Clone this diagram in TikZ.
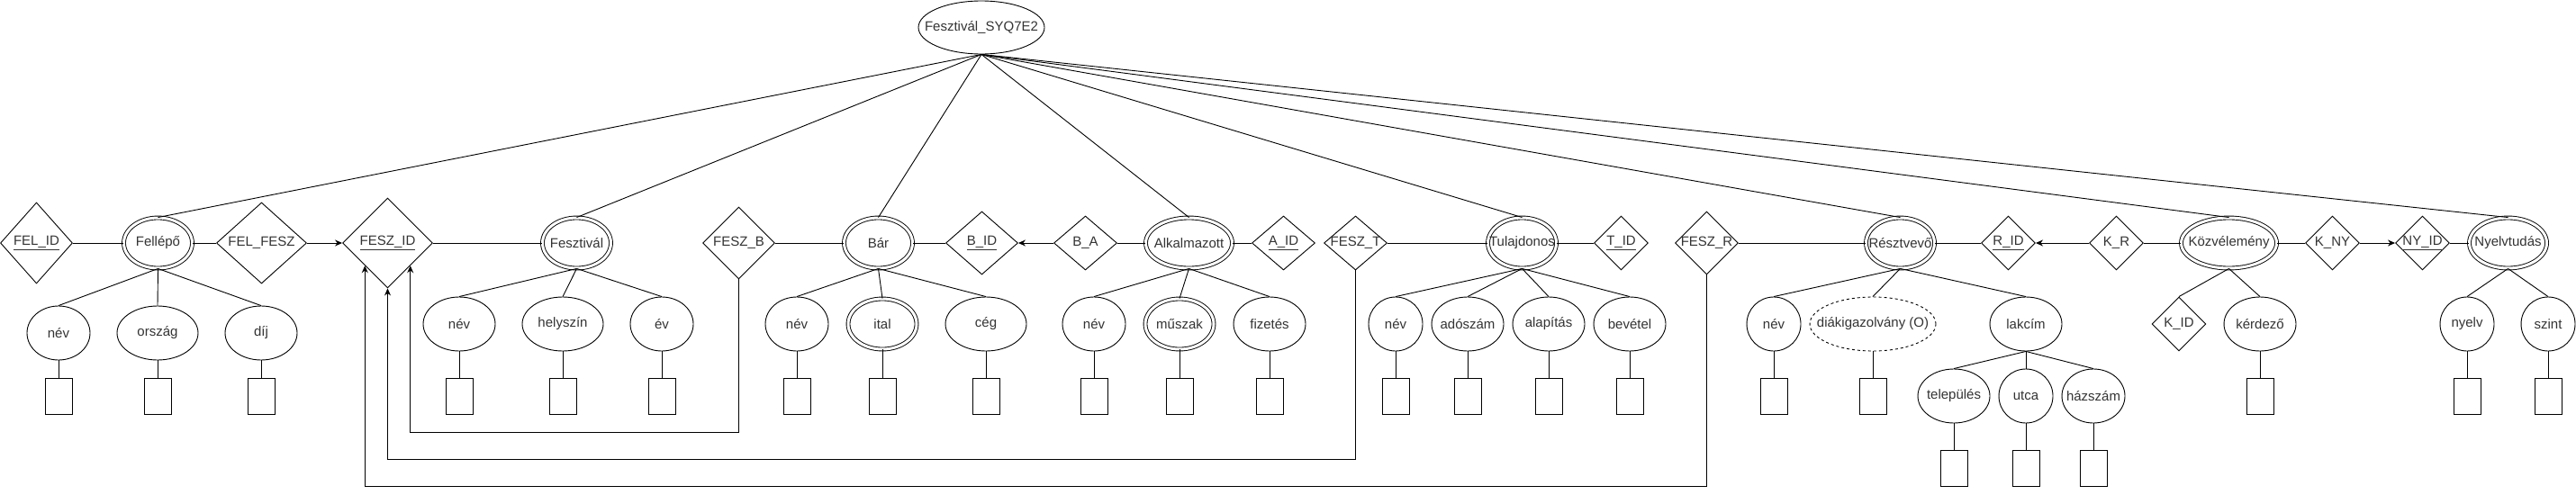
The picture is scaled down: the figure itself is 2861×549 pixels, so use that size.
\documentclass[tikz,border=0pt]{standalone}
\usepackage{fontspec}
\setmainfont{Liberation Sans}
\usetikzlibrary{shapes.geometric, arrows.meta, positioning}
\newcommand{\zbox}[1]{\makebox[0pt]{#1}}

\begin{document}
\begin{tikzpicture}[x=1pt, y=-1pt, line width=0.9pt,
    font=\fontsize{15}{18}\selectfont, text=black!80,
    >={Stealth[length=8pt, width=7pt]},
    ent/.style={draw, ellipse, double, double distance=3pt, inner sep=0pt, minimum height=56pt},
    attr/.style={draw, ellipse, inner sep=0pt, minimum height=60pt},
    rel/.style={draw, diamond, inner sep=0pt},
    dom/.style={draw, rectangle, inner sep=0pt, minimum width=30pt, minimum height=40pt}]
    \useasboundingbox (0,0) rectangle (2861,549);

    % Root
    \node [attr, minimum width=140pt, minimum height=59pt] (top) at (1090,30.5) {\zbox{Fesztivál\_SYQ7E2}};

    % Entities and relations
    \node [rel, minimum width=80pt, minimum height=90pt] (felid) at (40.5,270) {\zbox{\underline{FEL\_ID}}};
    \node [ent, minimum width=76pt, right of=felid, node distance=135pt] (fellepo) {\zbox{Fellépő}};
    \node [rel, minimum width=100pt, minimum height=90pt, right of=fellepo, node distance=115pt] (felfesz) {\zbox{FEL\_FESZ}};
    \node [rel, minimum width=100pt, minimum height=100pt, right of=felfesz, node distance=140pt] (feszid) {\zbox{\underline{FESZ\_ID}}};
    \node [ent, minimum width=76pt, right of=feszid, node distance=210pt] (fesztival) {\zbox{Fesztivál}};
    \node [rel, minimum width=80pt, minimum height=80pt, right of=fesztival, node distance=180pt] (feszb) {\zbox{FESZ\_B}};
    \node [ent, minimum width=76pt, right of=feszb, node distance=155pt] (bar) {\zbox{Bár}};
    \node [rel, minimum width=80pt, minimum height=70pt, right of=bar, node distance=115pt] (bid) {\zbox{\underline{B\_ID}}};
    \node [rel, minimum width=70pt, minimum height=60pt, right of=bid, node distance=115pt] (ba) {\zbox{B\_A}};
    \node [ent, minimum width=96pt, right of=ba, node distance=115pt] (alk) {\zbox{Alkalmazott}};
    \node [rel, minimum width=70pt, minimum height=60pt, right of=alk, node distance=105pt] (aid) {\zbox{\underline{A\_ID}}};
    \node [rel, minimum width=70pt, minimum height=60pt, right of=aid, node distance=80pt] (feszt) {\zbox{FESZ\_T}};
    \node [ent, minimum width=76pt, right of=feszt, node distance=185pt] (tul) {\zbox{Tulajdonos}};
    \node [rel, minimum width=60pt, minimum height=60pt, right of=tul, node distance=110pt] (tid) {\zbox{\underline{T\_ID}}};
    \node [rel, minimum width=70pt, minimum height=70pt, right of=tid, node distance=95pt] (feszr) {\zbox{FESZ\_R}};
    \node [ent, minimum width=76pt, right of=feszr, node distance=215pt] (reszt) {\zbox{Résztvevő}};
    \node [rel, minimum width=60pt, minimum height=60pt, right of=reszt, node distance=120pt] (rid) {\zbox{\underline{R\_ID}}};
    \node [rel, minimum width=60pt, minimum height=60pt, right of=rid, node distance=120pt] (kr) {\zbox{K\_R}};
    \node [ent, minimum width=106pt, right of=kr, node distance=125pt] (kozv) {\zbox{Közvélemény}};
    \node [rel, minimum width=60pt, minimum height=60pt, right of=kozv, node distance=115pt] (kny) {\zbox{K\_NY}};
    \node [rel, minimum width=60pt, minimum height=60pt, right of=kny, node distance=100pt] (nyid) {\zbox{\underline{NY\_ID}}};
    \node [ent, minimum width=86pt, right of=nyid, node distance=95pt] (nyelv) {\zbox{Nyelvtudás}};

    % Attributes
    \node [attr, minimum width=70pt] (fnev) at (65,370) {\zbox{név}};
    \node [attr, minimum width=90pt] (forszag) at (175,370) {\zbox{ország}};
    \node [attr, minimum width=80pt] (fdij) at (290,370) {\zbox{díj}};
    \node [attr, minimum width=80pt] (fznev) at (510,360) {\zbox{név}};
    \node [attr, minimum width=90pt] (fzhely) at (625,360) {\zbox{helyszín}};
    \node [attr, minimum width=70pt] (fzev) at (735,360) {\zbox{év}};
    \node [attr, minimum width=70pt] (bnev) at (885,360) {\zbox{név}};
    \node [ent, minimum width=76pt] (bital) at (980,360) {\zbox{ital}};
    \node [attr, minimum width=90pt] (bceg) at (1095,360) {\zbox{cég}};
    \node [attr, minimum width=70pt] (anev) at (1215,360) {\zbox{név}};
    \node [ent, minimum width=76pt] (amuszak) at (1310,360) {\zbox{műszak}};
    \node [attr, minimum width=80pt] (afiz) at (1410,360) {\zbox{fizetés}};
    \node [attr, minimum width=60pt] (tnev) at (1550,360) {\zbox{név}};
    \node [attr, minimum width=80pt] (tado) at (1630,360) {\zbox{adószám}};
    \node [attr, minimum width=80pt] (talap) at (1720,360) {\zbox{alapítás}};
    \node [attr, minimum width=80pt] (tbev) at (1810,360) {\zbox{bevétel}};
    \node [attr, minimum width=60pt] (rnev) at (1970,360) {\zbox{név}};
    \node [attr, minimum width=140pt, dash pattern=on 3pt off 3pt] (rdiak) at (2080,360) {\zbox{diákigazolvány (O)}};
    \node [attr, minimum width=80pt] (rlak) at (2250,360) {\zbox{lakcím}};
    \node [attr, minimum width=80pt] (rtel) at (2170,440) {\zbox{település}};
    \node [attr, minimum width=60pt] (rutca) at (2250,440) {\zbox{utca}};
    \node [attr, minimum width=70pt] (rhaz) at (2325,440) {\zbox{házszám}};
    \node [rel, minimum width=60pt, minimum height=60pt] (kid) at (2420,360) {\zbox{K\_ID}};
    \node [attr, minimum width=80pt] (kkerd) at (2510,360) {\zbox{kérdező}};
    \node [attr, minimum width=60pt] (nynyelv) at (2740,360) {\zbox{nyelv}};
    \node [attr, minimum width=60pt] (nyszint) at (2830,360) {\zbox{szint}};

    % Domains
    \node [dom, below of=fnev, node distance=70pt] (fnev-d) {};
    \node [dom, below of=forszag, node distance=70pt] (forszag-d) {};
    \node [dom, below of=fdij, node distance=70pt] (fdij-d) {};
    \node [dom, below of=fznev, node distance=80pt] (fznev-d) {};
    \node [dom, below of=fzhely, node distance=80pt] (fzhely-d) {};
    \node [dom, below of=fzev, node distance=80pt] (fzev-d) {};
    \node [dom, below of=bnev, node distance=80pt] (bnev-d) {};
    \node [dom, below of=bital, node distance=80pt] (bital-d) {};
    \node [dom, below of=bceg, node distance=80pt] (bceg-d) {};
    \node [dom, below of=anev, node distance=80pt] (anev-d) {};
    \node [dom, below of=amuszak, node distance=80pt] (amuszak-d) {};
    \node [dom, below of=afiz, node distance=80pt] (afiz-d) {};
    \node [dom, below of=tnev, node distance=80pt] (tnev-d) {};
    \node [dom, below of=tado, node distance=80pt] (tado-d) {};
    \node [dom, below of=talap, node distance=80pt] (talap-d) {};
    \node [dom, below of=tbev, node distance=80pt] (tbev-d) {};
    \node [dom, below of=rnev, node distance=80pt] (rnev-d) {};
    \node [dom, below of=rdiak, node distance=80pt] (rdiak-d) {};
    \node [dom, below of=rtel, node distance=80pt] (rtel-d) {};
    \node [dom, below of=rutca, node distance=80pt] (rutca-d) {};
    \node [dom, below of=rhaz, node distance=80pt] (rhaz-d) {};
    \node [dom, below of=kkerd, node distance=80pt] (kkerd-d) {};
    \node [dom, below of=nynyelv, node distance=80pt] (nynyelv-d) {};
    \node [dom, below of=nyszint, node distance=80pt] (nyszint-d) {};

    % Root lines
    \draw (top.south) -- (fellepo.north);
    \draw (top.south) -- (fesztival.north);
    \draw (top.south) -- (bar.north);
    \draw (top.south) -- (alk.north);
    \draw (top.south) -- (tul.north);
    \draw (top.south) -- (reszt.north);
    \draw (top.south) -- (kozv.north);
    \draw (top.south) -- (nyelv.north);

    % Relations
    \draw (felid) -- (fellepo);
    \draw (fellepo) -- (felfesz);
    \draw[->] (felfesz) -- (feszid);
    \draw (feszid) -- (fesztival);
    \draw (feszb) -- (bar);
    \draw (bar) -- (bid);
    \draw[->] (ba) -- (bid);
    \draw (ba) -- (alk);
    \draw (alk) -- (aid);
    \draw (feszt) -- (tul);
    \draw (tul) -- (tid);
    \draw (feszr) -- (reszt);
    \draw (reszt) -- (rid);
    \draw[->] (kr) -- (rid);
    \draw (kr) -- (kozv);
    \draw (kozv) -- (kny);
    \draw[->] (kny) -- (nyid);
    \draw (nyid) -- (nyelv);
    \draw[->] (feszb.south) -- ++(0,170) -| (feszid.south east);
    \draw[->] (feszt.south) -- ++(0,210) -| (feszid.south);
    \draw[->] (feszr.south) -- ++(0,235) -| (feszid.south west);

    % Attribute lines
    \draw (fellepo.south) -- (fnev.north);
    \draw (fellepo.south) -- (forszag.north);
    \draw (fellepo.south) -- (fdij.north);
    \draw (fesztival.south) -- (fznev.north);
    \draw (fesztival.south) -- (fzhely.north);
    \draw (fesztival.south) -- (fzev.north);
    \draw (bar.south) -- (bnev.north);
    \draw (bar.south) -- (bital.north);
    \draw (bar.south) -- (bceg.north);
    \draw (alk.south) -- (anev.north);
    \draw (alk.south) -- (amuszak.north);
    \draw (alk.south) -- (afiz.north);
    \draw (tul.south) -- (tnev.north);
    \draw (tul.south) -- (tado.north);
    \draw (tul.south) -- (talap.north);
    \draw (tul.south) -- (tbev.north);
    \draw (reszt.south) -- (rnev.north);
    \draw (reszt.south) -- (rdiak.north);
    \draw (reszt.south) -- (rlak.north);
    \draw (rlak.south) -- (rtel.north);
    \draw (rlak.south) -- (rutca.north);
    \draw (rlak.south) -- (rhaz.north);
    \draw (kozv.south) -- (kid.north);
    \draw (kozv.south) -- (kkerd.north);
    \draw (nyelv.south) -- (nynyelv.north);
    \draw (nyelv.south) -- (nyszint.north);

    % Domain lines
    \draw (fnev) -- (fnev-d);
    \draw (forszag) -- (forszag-d);
    \draw (fdij) -- (fdij-d);
    \draw (fznev) -- (fznev-d);
    \draw (fzhely) -- (fzhely-d);
    \draw (fzev) -- (fzev-d);
    \draw (bnev) -- (bnev-d);
    \draw (bital) -- (bital-d);
    \draw (bceg) -- (bceg-d);
    \draw (anev) -- (anev-d);
    \draw (amuszak) -- (amuszak-d);
    \draw (afiz) -- (afiz-d);
    \draw (tnev) -- (tnev-d);
    \draw (tado) -- (tado-d);
    \draw (talap) -- (talap-d);
    \draw (tbev) -- (tbev-d);
    \draw (rnev) -- (rnev-d);
    \draw (rdiak) -- (rdiak-d);
    \draw (rtel) -- (rtel-d);
    \draw (rutca) -- (rutca-d);
    \draw (rhaz) -- (rhaz-d);
    \draw (kkerd) -- (kkerd-d);
    \draw (nynyelv) -- (nynyelv-d);
    \draw (nyszint) -- (nyszint-d);

\end{tikzpicture}
\end{document}
